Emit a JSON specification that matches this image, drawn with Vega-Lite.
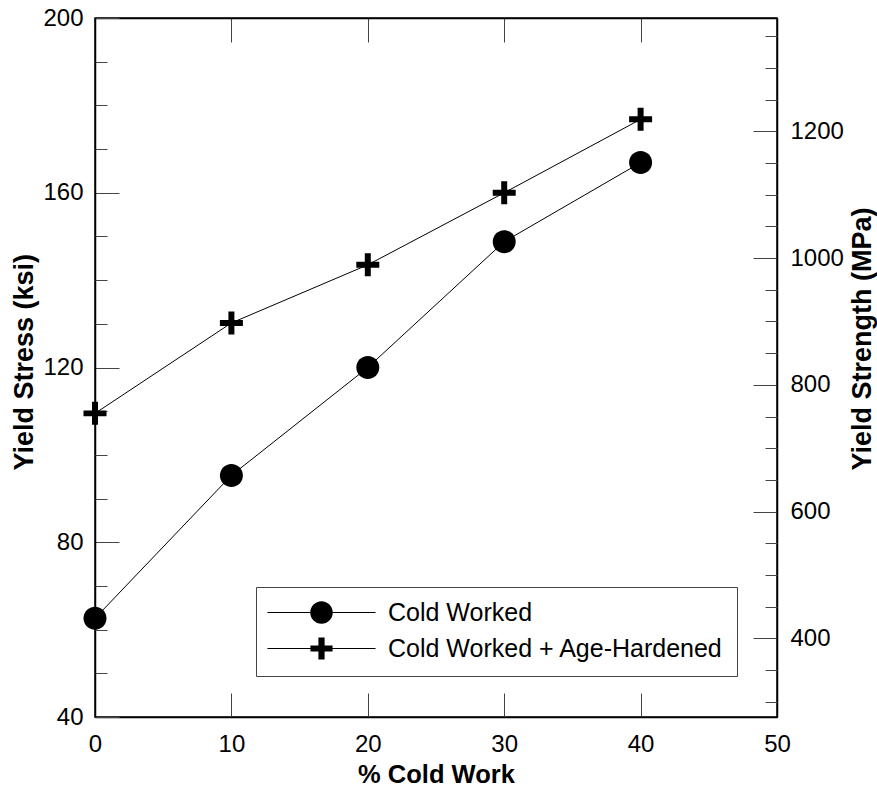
{
  "$schema": "https://vega.github.io/schema/vega-lite/v6.json",
  "autosize": "none",
  "padding": {"left": 95, "top": 18, "right": 100, "bottom": 71},
  "width": 682,
  "height": 699,
  "background": "white",
  "config": {
    "view": {"stroke": "black", "strokeWidth": 1.5},
    "font": "Liberation Sans",
    "axis": {
      "labelFont": "Liberation Sans",
      "labelFontSize": 24,
      "labelColor": "black",
      "labelFlush": false,
      "titleFont": "Liberation Sans",
      "titleFontSize": 27,
      "titleFontWeight": "bold",
      "titleColor": "black",
      "tickColor": "#444",
      "tickWidth": 1,
      "domainColor": "black",
      "domainWidth": 1.5,
      "grid": false
    }
  },
  "data": {
    "values": [
      {"pct": 0, "ksi": 62.6, "series": "Cold Worked"},
      {"pct": 10, "ksi": 95.3, "series": "Cold Worked"},
      {"pct": 20, "ksi": 120, "series": "Cold Worked"},
      {"pct": 30, "ksi": 148.8, "series": "Cold Worked"},
      {"pct": 40, "ksi": 166.9, "series": "Cold Worked"},
      {"pct": 0, "ksi": 109.5, "series": "Cold Worked + Age-Hardened"},
      {"pct": 10, "ksi": 130.2, "series": "Cold Worked + Age-Hardened"},
      {"pct": 20, "ksi": 143.5, "series": "Cold Worked + Age-Hardened"},
      {"pct": 30, "ksi": 160, "series": "Cold Worked + Age-Hardened"},
      {"pct": 40, "ksi": 176.8, "series": "Cold Worked + Age-Hardened"}
    ]
  },
  "resolve": {
    "scale": {"y": "independent", "shape": "independent"},
    "axis": {"x": "independent", "y": "independent"},
    "legend": {"shape": "independent"}
  },
  "layer": [
    {
      "mark": {"type": "line", "color": "black", "strokeWidth": 1},
      "encoding": {
        "x": {
          "field": "pct", "type": "quantitative",
          "scale": {"domain": [0, 50], "nice": false, "zero": false},
          "axis": {
            "orient": "bottom", "values": [0, 10, 20, 30, 40, 50], "format": "d",
            "labelFlush": false,
            "tickSize": -24, "labelPadding": 39, "title": "% Cold Work",
            "titleFontSize": 25.5, "titleBaseline": "alphabetic", "titleAlign": "center",
            "titleX": 341, "titleY": 65
          }
        },
        "y": {
          "field": "ksi", "type": "quantitative",
          "scale": {"domain": [40, 200], "nice": false, "zero": false},
          "axis": {
            "orient": "left", "values": [40, 80, 120, 160, 200], "format": "d",
            "labelFlush": false,
            "tickSize": -24, "labelPadding": 36, "title": "Yield Stress (ksi)",
            "titleAngle": -90, "titleAlign": "left", "titleBaseline": "alphabetic",
            "titleX": -63, "titleY": 452
          }
        },
        "detail": {"field": "series"}
      }
    },
    {
      "mark": {"type": "point", "filled": true, "color": "black", "opacity": 1, "size": 529},
      "encoding": {
        "x": {
          "field": "pct", "type": "quantitative",
          "scale": {"domain": [0, 50], "nice": false, "zero": false},
          "axis": {"orient": "top", "values": [10, 20, 30, 40], "tickSize": -24, "labels": false, "title": null}
        },
        "y": {
          "field": "ksi", "type": "quantitative",
          "scale": {"domain": [40, 200], "nice": false, "zero": false},
          "axis": {
            "orient": "left", "values": [50, 60, 70, 90, 100, 110, 130, 140, 150, 170, 180, 190],
            "tickSize": -12, "labels": false, "domain": false, "title": null
          }
        },
        "shape": {
          "field": "series", "type": "nominal",
          "scale": {
            "domain": ["Cold Worked", "Cold Worked + Age-Hardened"],
            "range": [
              "M -1 0 A 1 1 0 1 0 1 0 A 1 1 0 1 0 -1 0 Z",
              "M -1 -0.26 H -0.26 V -1 H 0.26 V -0.26 H 1 V 0.26 H 0.26 V 1 H -0.26 V 0.26 H -1 Z"
            ]
          },
          "legend": null
        }
      }
    },
    {
      "transform": [{"filter": "datum.pct > 1000"}],
      "mark": {"type": "point", "filled": true, "color": "black", "opacity": 1, "size": 529},
      "encoding": {
        "shape": {
          "field": "series", "type": "nominal",
          "scale": {
            "domain": ["Cold Worked", "Cold Worked + Age-Hardened"],
            "range": [
              "M -4.7 -0.045 L -0.99 -0.045 L -0.99 0.045 L -4.7 0.045 Z M 0.99 -0.045 L 4.7 -0.045 L 4.7 0.045 L 0.99 0.045 Z M -0.98 0 A 0.98 0.98 0 1 0 0.98 0 A 0.98 0.98 0 1 0 -0.98 0 Z",
              "M -4.7 -0.045 L -0.96 -0.045 L -0.96 0.045 L -4.7 0.045 Z M 0.96 -0.045 L 4.7 -0.045 L 4.7 0.045 L 0.96 0.045 Z M -0.96 -0.27 L -0.27 -0.27 L -0.27 -0.96 L 0.27 -0.96 L 0.27 -0.27 L 0.96 -0.27 L 0.96 0.27 L 0.27 0.27 L 0.27 0.96 L -0.27 0.96 L -0.27 0.27 L -0.96 0.27 Z"
            ]
          },
          "legend": {
            "title": null,
            "orient": "none",
            "legendX": 161,
            "legendY": 569,
            "direction": "vertical",
            "padding": 13,
            "strokeColor": "#444",
            "fillColor": "white",
            "symbolSize": 529,
            "symbolOffset": 40,
            "labelOffset": 54,
            "rowPadding": 7,
            "labelFont": "Liberation Sans",
            "labelFontSize": 25,
            "labelColor": "black",
            "labelLimit": 500
          }
        }
      }
    },
    {
      "mark": {"type": "point", "opacity": 0},
      "encoding": {
        "y": {
          "field": "ksi", "type": "quantitative",
          "scale": {"domain": [275.79, 1378.95], "nice": false, "zero": false},
          "axis": {
            "orient": "right", "values": [400, 600, 800, 1000, 1200], "format": "d",
            "labelFlush": false,
            "tickSize": -24, "labelPadding": 37, "title": "Yield Strength (MPa)",
            "titleAngle": -90, "titleAlign": "left", "titleBaseline": "alphabetic",
            "titleX": 93, "titleY": 452
          }
        }
      }
    },
    {
      "mark": {"type": "point", "opacity": 0},
      "encoding": {
        "y": {
          "field": "ksi", "type": "quantitative",
          "scale": {"domain": [275.79, 1378.95], "nice": false, "zero": false},
          "axis": {
            "orient": "right",
            "values": [300, 350, 450, 500, 550, 650, 700, 750, 850, 900, 950, 1050, 1100, 1150, 1250, 1300, 1350],
            "tickSize": -12, "labels": false, "domain": false, "title": null
          }
        }
      }
    }
  ]
}
